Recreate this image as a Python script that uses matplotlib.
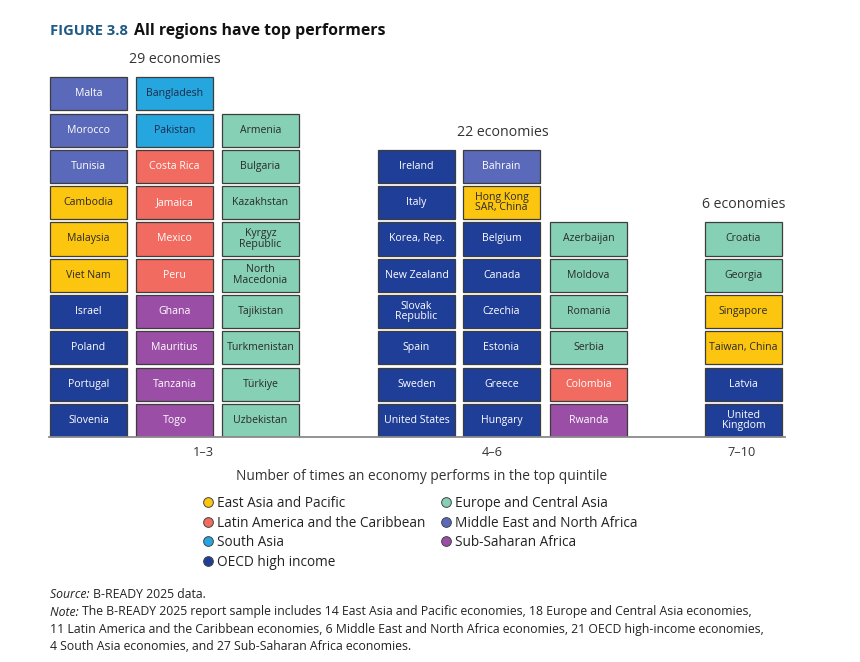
import matplotlib
matplotlib.use("Agg")
import matplotlib.pyplot as plt
from matplotlib.lines import Line2D

plt.rcParams['font.family'] = ['Open Sans', 'DejaVu Sans']

# ---------------- data ----------------
group_labels = ["1–3", "4–6", "7–10"]
group_counts = ["29 economies", "22 economies", "6 economies"]

# each column listed top -> bottom
col1_names = ["Malta", "Morocco", "Tunisia", "Cambodia", "Malaysia", "Viet Nam",
              "Israel", "Poland", "Portugal", "Slovenia"]
col1_regions = ["MENA", "MENA", "MENA", "EAP", "EAP", "EAP",
                "OECD", "OECD", "OECD", "OECD"]
col2_names = ["Bangladesh", "Pakistan", "Costa Rica", "Jamaica", "Mexico", "Peru",
              "Ghana", "Mauritius", "Tanzania", "Togo"]
col2_regions = ["SA", "SA", "LAC", "LAC", "LAC", "LAC",
                "SSA", "SSA", "SSA", "SSA"]
col3_names = ["Armenia", "Bulgaria", "Kazakhstan", "Kyrgyz\nRepublic", "North\nMacedonia",
              "Tajikistan", "Turkmenistan", "Türkiye", "Uzbekistan"]
col3_regions = ["ECA"] * 9
col4_names = ["Ireland", "Italy", "Korea, Rep.", "New Zealand", "Slovak\nRepublic",
              "Spain", "Sweden", "United States"]
col4_regions = ["OECD"] * 8
col5_names = ["Bahrain", "Hong Kong\nSAR, China", "Belgium", "Canada", "Czechia",
              "Estonia", "Greece", "Hungary"]
col5_regions = ["MENA", "EAP", "OECD", "OECD", "OECD", "OECD", "OECD", "OECD"]
col6_names = ["Azerbaijan", "Moldova", "Romania", "Serbia", "Colombia", "Rwanda"]
col6_regions = ["ECA", "ECA", "ECA", "ECA", "LAC", "SSA"]
col7_names = ["Croatia", "Georgia", "Singapore", "Taiwan, China", "Latvia",
              "United\nKingdom"]
col7_regions = ["ECA", "ECA", "EAP", "EAP", "OECD", "OECD"]

region_keys = ["EAP", "LAC", "SA", "OECD", "ECA", "MENA", "SSA"]
region_labels = ["East Asia and Pacific", "Latin America and the Caribbean", "South Asia",
                 "OECD high income", "Europe and Central Asia",
                 "Middle East and North Africa", "Sub-Saharan Africa"]

# ---------------- styles ----------------
region_colors = {"EAP": "#fcc50f", "LAC": "#f26b60", "SA": "#26a6df", "OECD": "#1f3e98",
                 "ECA": "#86d1b5", "MENA": "#5a69b9", "SSA": "#9b4ea6"}
text_colors = {"EAP": "#2a2a2a", "LAC": "white", "SA": "#1b2a4a", "OECD": "white",
               "ECA": "#2a2a2a", "MENA": "white", "SSA": "white"}

columns = [(col1_names, col1_regions), (col2_names, col2_regions), (col3_names, col3_regions),
           (col4_names, col4_regions), (col5_names, col5_regions), (col6_names, col6_regions),
           (col7_names, col7_regions)]
col_left = [50, 136, 222, 378, 463, 550, 705]     # layout (pixels)
col_group = [0, 0, 0, 1, 1, 1, 2]
col_w = 77
group_label_x = [203, 492, 742]
group_count_x = [175, 503, 744]

W, H = 860, 662
fig = plt.figure(figsize=(W / 100, H / 100), dpi=100)
base_px, top_px = 437, 74
ax = fig.add_axes([0, (H - base_px) / H, 1, (base_px - top_px) / H])
ax.set_xlim(0, W)
ax.set_ylim(0, 10)
ax.axis("off")


def fx(x):
    return x / W


def fy(y):
    return 1 - y / H


group_rows = [0, 0, 0]
for (names, regs), left, g in zip(columns, col_left, col_group):
    n = len(names)
    group_rows[g] = max(group_rows[g], n)
    for i, (name, reg) in enumerate(zip(reversed(names), reversed(regs))):
        ax.bar(left, 0.91, width=col_w, bottom=i, align="edge",
               color=region_colors[reg], edgecolor="#3d3d3d", linewidth=0.9, zorder=2)
        ax.text(left + col_w / 2, i + 0.455, name, ha="center", va="center",
                fontsize=7.6, color=text_colors[reg], linespacing=0.95, zorder=3)

ax.plot([49, 785], [0, 0], color="#8a8a8a", lw=1.3, zorder=4, clip_on=False)

for g in range(3):
    ax.text(group_count_x[g], group_rows[g] + 0.4, group_counts[g], ha="center",
            va="center", fontsize=10.2, color="#333333")
    fig.text(fx(group_label_x[g]), fy(452), group_labels[g], ha="center", va="center",
             fontsize=9.2, color="#333333")

fig.text(fx(422), fy(477), "Number of times an economy performs in the top quintile",
         ha="center", va="center", fontsize=9.9, color="#333333")

# title
fig.text(fx(50), fy(31), "FIGURE 3.8", ha="left", va="center", fontsize=10.6,
         fontweight="bold", color="#1f5a85")
fig.text(fx(134), fy(31), "All regions have top performers", ha="left", va="center",
         fontsize=11.4, fontweight="bold", color="#111111")

# legend
handles = [Line2D([0], [0], marker="o", linestyle="none", markersize=7,
                  markerfacecolor=region_colors[k], markeredgecolor="#444444",
                  markeredgewidth=0.7) for k in region_keys]
fig.legend(handles, region_labels, ncol=2, loc="upper left",
           bbox_to_anchor=(fx(204), fy(496)), frameon=False, fontsize=9.8,
           handlelength=0.6, handletextpad=0.35, columnspacing=1.2,
           labelspacing=0.34, borderpad=0, borderaxespad=0, labelcolor="#222222")

# source and note
fs = 8.8
renderer = fig.canvas.get_renderer()


def run_text(x_px, y_px, parts):
    x = x_px
    for txt, st in parts:
        t = fig.text(fx(x), fy(y_px), txt, ha="left", va="center", fontsize=fs,
                     style=st, color="#222222")
        bb = t.get_window_extent(renderer=renderer)
        x += bb.width


run_text(50, 595, [("Source: ", "italic"), ("B-READY 2025 data.", "normal")])
run_text(50, 612, [("Note: ", "italic"),
                   ("The B-READY 2025 report sample includes 14 East Asia and Pacific "
                    "economies, 18 Europe and Central Asia economies,", "normal")])
run_text(50, 630, [("11 Latin America and the Caribbean economies, 6 Middle East and North "
                    "Africa economies, 21 OECD high-income economies,", "normal")])
run_text(50, 647, [("4 South Asia economies, and 27 Sub-Saharan Africa economies.", "normal")])

fig.savefig("out.png", dpi=100, facecolor="white")
